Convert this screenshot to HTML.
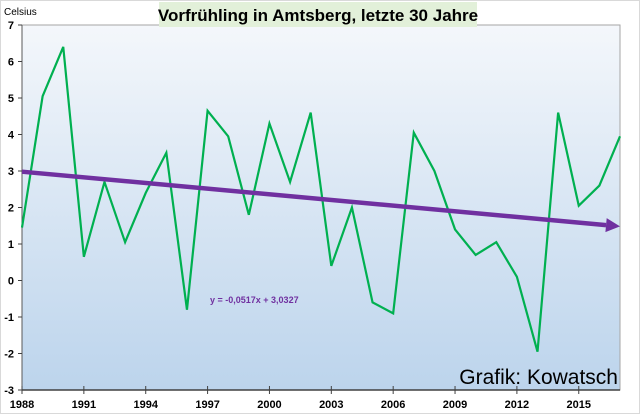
<!DOCTYPE html>
<html><head><meta charset="utf-8"><style>
body{margin:0;background:#fff;}
svg{display:block;font-family:"Liberation Sans",sans-serif;}
</style></head><body>
<svg width="640" height="414">
<defs><linearGradient id="bg" x1="0" y1="0" x2="0" y2="1"><stop offset="0" stop-color="#f4f7fb"/><stop offset="1" stop-color="#bcd4ec"/></linearGradient></defs>
<rect x="0.5" y="0.5" width="639" height="413" fill="#fff" stroke="#d9d9d9"/>
<rect id="plot" fill="url(#bg)" stroke="#a6a6a6"/>
<rect x="159" y="2" width="318" height="25" fill="#e2f0d9"/>
<text x="318" y="21" text-anchor="middle" font-size="17" font-weight="bold" fill="#000">Vorfrühling in Amtsberg, letzte 30 Jahre</text>
<text x="4" y="15" font-size="10">Celsius</text>
<g id="axes"></g>
<g id="series"></g>
<text x="210" y="303" font-size="9" font-weight="bold" fill="#7030a0">y = -0,0517x + 3,0327</text>
<text x="618" y="384" text-anchor="end" font-size="21" fill="#000">Grafik: Kowatsch</text>
</svg>
<script>
const years=[1988,1989,1990,1991,1992,1993,1994,1995,1996,1997,1998,1999,2000,2001,2002,2003,2004,2005,2006,2007,2008,2009,2010,2011,2012,2013,2014,2015,2016,2017];
const temps=[1.45,5.05,6.4,0.65,2.7,1.05,2.4,3.5,-0.8,4.65,3.95,1.8,4.3,2.7,4.6,0.4,2.0,-0.6,-0.9,4.05,3.0,1.4,0.7,1.05,0.1,-1.95,4.6,2.05,2.6,3.95];
const yTicks=[-3,-2,-1,0,1,2,3,4,5,6,7];
const xTicks=[1988,1991,1994,1997,2000,2003,2006,2009,2012,2015];
const slope=-0.0517, intercept=3.0327;
const L=22,R=620,T=25,B=390;
const x=v=>L+(v-1988)/(2017-1988)*(R-L);
const y=v=>B-(v+3)/10*(B-T);
const NS="http://www.w3.org/2000/svg";
function mk(tag,attrs,parent){const e=document.createElementNS(NS,tag);for(const k in attrs)e.setAttribute(k,attrs[k]);parent.appendChild(e);return e;}
const plot=document.getElementById('plot');
plot.setAttribute('x',L);plot.setAttribute('y',T);plot.setAttribute('width',R-L);plot.setAttribute('height',B-T);
const ax=document.getElementById('axes');
let a=mk('line',{x1:L,y1:T,x2:L,y2:B,stroke:'#595959'},ax);


a=mk('line',{x1:L,y1:B,x2:R,y2:B,stroke:'#404040','stroke-width':1.5},ax);


yTicks.forEach(t=>{
 const l=mk('line',{x1:L-4,y1:y(t),x2:L,y2:y(t),stroke:'#404040'},ax);
 
 
 const tx=mk('text',{x:L-8,y:y(t)+4,'text-anchor':'end','font-size':11,'font-weight':'bold'},ax);
 tx.textContent=t;
 
 
});
xTicks.forEach(t=>{
 const l=mk('line',{x1:x(t),y1:B-4,x2:x(t),y2:B+4,stroke:'#404040'},ax);
 
 
 const tx=mk('text',{x:x(t),y:408,'text-anchor':'middle','font-size':11,'font-weight':'bold'},ax);
 tx.textContent=t;
 
 
});
const s=document.getElementById('series');
const pl=mk('polyline',{points:years.map((yr,i)=>x(yr)+','+y(temps[i])).join(' '),fill:'none',stroke:'#00b050','stroke-width':2.2,'stroke-linejoin':'miter'},s);


const n0=1,n1=years.length;
const x1=x(years[0]),y1=y(slope*n0+intercept),x2=x(years[n1-1]),y2=y(slope*n1+intercept);
const ang=Math.atan2(y2-y1,x2-x1);
const hx=x2-14*Math.cos(ang),hy=y2-14*Math.sin(ang);
const tl=mk('line',{x1:x1,y1:y1,x2:hx,y2:hy,stroke:'#7030a0','stroke-width':4.5},s);


const px=-Math.sin(ang)*7,py=Math.cos(ang)*7;
const ah=mk('polygon',{points:`${x2},${y2} ${hx+px},${hy+py} ${hx-px},${hy-py}`,fill:'#7030a0'},s);


</script>
</body></html>
